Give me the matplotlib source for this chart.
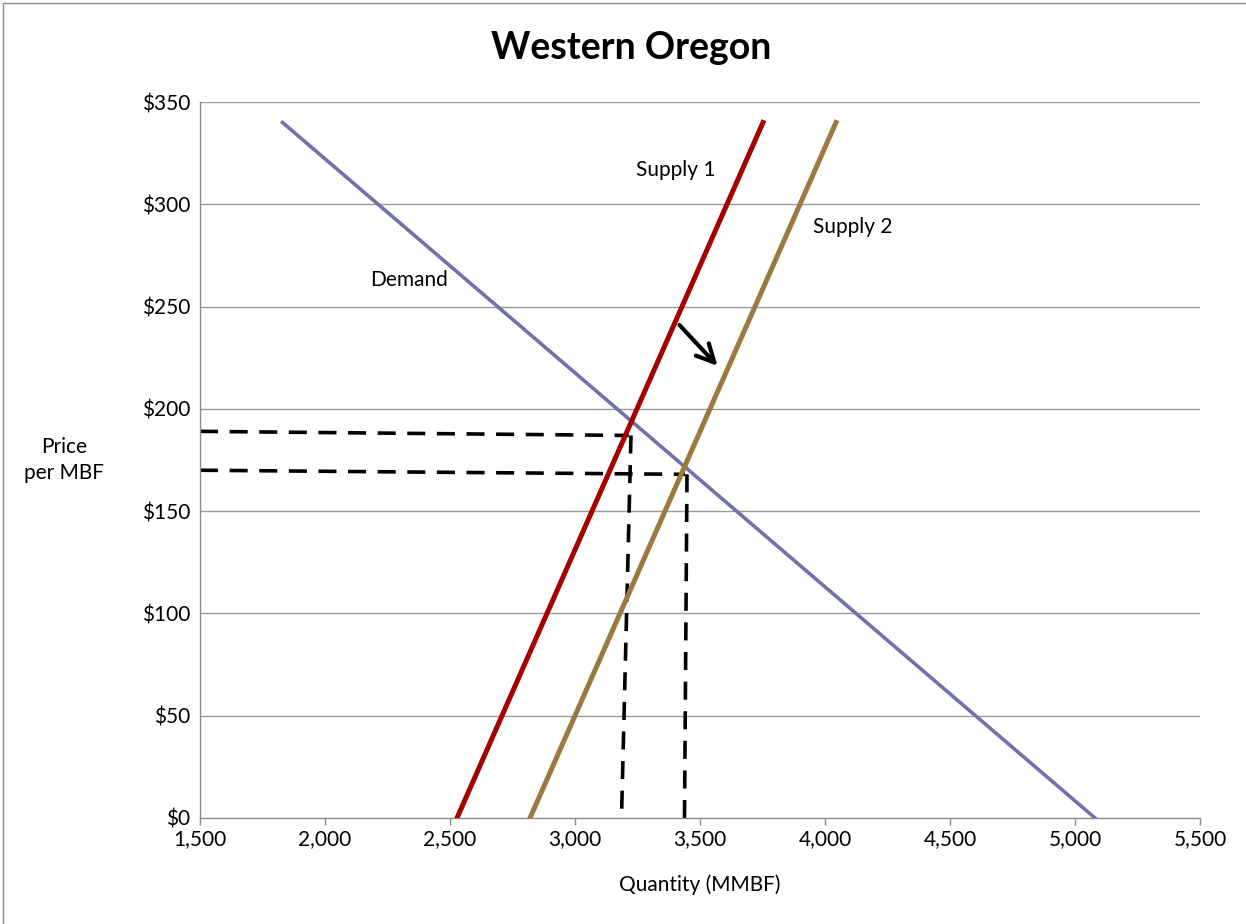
import matplotlib.pyplot as plt
from matplotlib.patches import Rectangle

# Curves (quantity in MMBF, price in $/MBF)
demand_q = [1830, 5080]
demand_p = [340, 0]
supply1_q = [2528, 3752]
supply1_p = [0, 340]
supply2_q = [2820, 4044]
supply2_p = [0, 340]

# Equilibrium guide lines
eq1_h_q = [1500, 3215]
eq1_h_p = [189, 187]
eq1_v_q = [3224, 3186]
eq1_v_p = [187, 0]
eq2_h_q = [1500, 3440]
eq2_h_p = [170, 168]
eq2_v_q = [3448, 3438]
eq2_v_p = [168, 0]

xticks = [1500, 2000, 2500, 3000, 3500, 4000, 4500, 5000, 5500]
yticks = [0, 50, 100, 150, 200, 250, 300, 350]

plt.rcParams['font.family'] = ['Lato', 'DejaVu Sans']

fig = plt.figure(figsize=(12.46, 9.24), dpi=100)
ax = fig.add_axes([200/1246, 106/924, 1000/1246, 716/924])

ax.set_xlim(1500, 5500)
ax.set_ylim(0, 350)

for y in yticks[1:]:
    ax.axhline(y, color='#9a9a9a', lw=1, zorder=0)

dash = dict(color='black', lw=2.6, dashes=(5, 3.2), zorder=2)
ax.plot(eq1_h_q, eq1_h_p, **dash)
ax.plot(eq1_v_q, eq1_v_p, **dash)
ax.plot(eq2_h_q, eq2_h_p, **dash)
ax.plot(eq2_v_q, eq2_v_p, **dash)

ax.plot(demand_q, demand_p, color='#7272AA', lw=2.6, zorder=3)
ax.plot(supply1_q, supply1_p, color='#A50000', lw=3.6, zorder=3)
ax.plot(supply2_q, supply2_p, color='#9B7940', lw=3.6, zorder=3)

ax.annotate('', xy=(3578, 220), xytext=(3410, 242),
            arrowprops=dict(arrowstyle='->', color='black', lw=3,
                            mutation_scale=32))

ax.text(3404, 317, 'Supply 1', fontsize=15, ha='center', va='center')
ax.text(4112, 289, 'Supply 2', fontsize=15, ha='center', va='center')
ax.text(2336, 263, 'Demand', fontsize=15, ha='center', va='center')

ax.set_xticks(xticks)
ax.set_xticklabels([f'{v:,}' for v in xticks], fontsize=15)
ax.set_yticks(yticks)
ax.set_yticklabels([f'${v}' for v in yticks], fontsize=15)
ax.tick_params(axis='both', color='#8a8a8a', length=5, width=1)
ax.tick_params(axis='x', pad=3)
ax.tick_params(axis='y', length=0, pad=7)

for s in ['top', 'right']:
    ax.spines[s].set_visible(False)
for s in ['left', 'bottom']:
    ax.spines[s].set_color('#8a8a8a')
    ax.spines[s].set_linewidth(1)

ax.set_xlabel('Quantity (MMBF)', fontsize=15, labelpad=18)
fig.text(64/1246, 1 - 460/924, 'Price\nper MBF', fontsize=15,
         ha='center', va='center', linespacing=1.4)
fig.text(631/1246, 1 - 48/924, 'Western Oregon', fontsize=27,
         fontweight='bold', ha='center', va='center')

# chart border
fig.patches.append(Rectangle((3/1246, -0.05), 1.1, 1.05 - 3/924,
                             transform=fig.transFigure, fill=False,
                             edgecolor='#8a8a8a', lw=1))

fig.savefig('out.png', dpi=100)
